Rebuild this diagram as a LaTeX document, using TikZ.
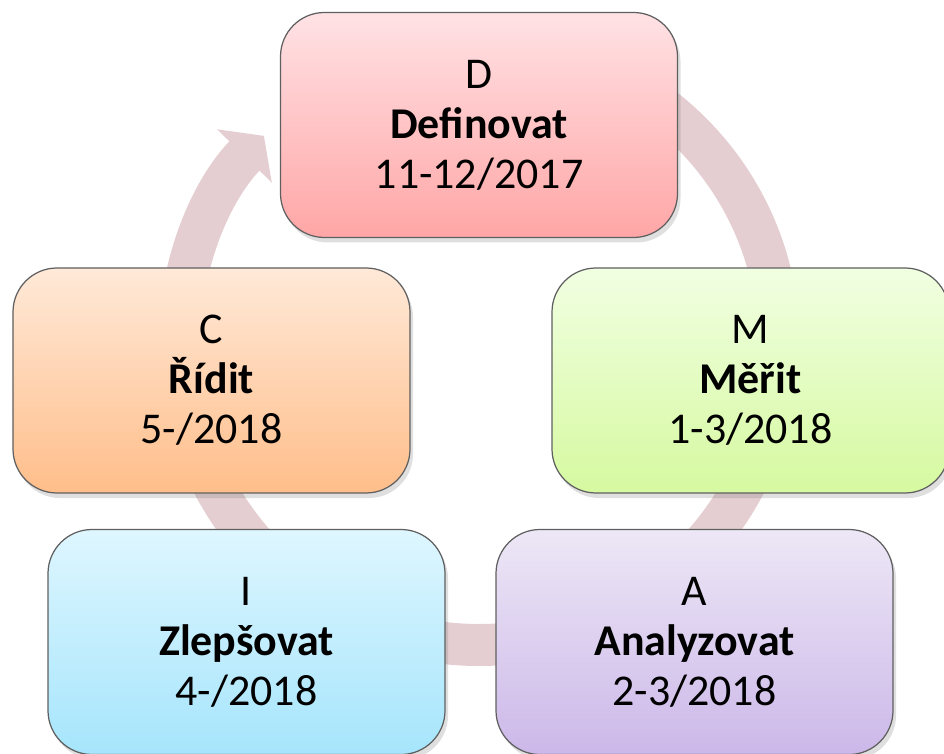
\documentclass[tikz,border=0pt]{standalone}
\usepackage{fontspec}
\setmainfont{Carlito}
\usepackage{tikz}
\usetikzlibrary{arrows.meta,positioning,shadows}
\usepackage{xcolor}
\definecolor{ringpink}{RGB}{229,206,209}
\definecolor{boxline}{RGB}{95,95,95}

\begin{document}
\begin{tikzpicture}[
    phase/.style={rectangle, draw=boxline, line width=0.7pt, rounded corners=0.88cm,
      minimum width=7.94cm, minimum height=4.5cm, inner sep=0pt, align=center,
      font=\fontsize{25}{28.5}\selectfont,
      drop shadow={shadow xshift=0.6mm, shadow yshift=-1mm, opacity=0.25}},
    ring/.style={draw=ringpink, line width=0.84cm,
      -{Triangle[width=1.5cm, length=0.56cm, color=ringpink]}}
]
    \useasboundingbox (0,0) rectangle (18.88,15.06);
    \coordinate (hub) at (9.58,8.16);

    % cycle arrow behind the phases
    \draw[ring] (hub) ++(90:6) arc[start angle=90, end angle=-224.2, radius=6];

    \node[phase, top color={rgb,255:red,255;green,226;blue,229}, bottom color={rgb,255:red,255;green,166;blue,166}]
      (def) at (9.58,12.56) {D\\\textbf{Definovat}\\11-12/2017};
    \node[phase, top color={rgb,255:red,241;green,255;blue,226}, bottom color={rgb,255:red,214;green,249;blue,160}]
      (mer) at (15.01,7.45) {M\\\textbf{Měřit}\\1-3/2018};
    \node[phase, top color={rgb,255:red,237;green,231;blue,246}, bottom color={rgb,255:red,204;green,184;blue,233}]
      (ana) at (13.89,2.22) {A\\\textbf{Analyzovat}\\2-3/2018};
    \node[phase, top color={rgb,255:red,222;green,246;blue,255}, bottom color={rgb,255:red,166;green,229;blue,252}]
      (zle) at (4.93,2.22) {I\\\textbf{Zlepšovat}\\4-/2018};
    \node[phase, top color={rgb,255:red,255;green,233;blue,216}, bottom color={rgb,255:red,255;green,190;blue,138}]
      (rid) at (4.23,7.45) {C\\\textbf{Řídit}\\5-/2018};
\end{tikzpicture}
\end{document}
